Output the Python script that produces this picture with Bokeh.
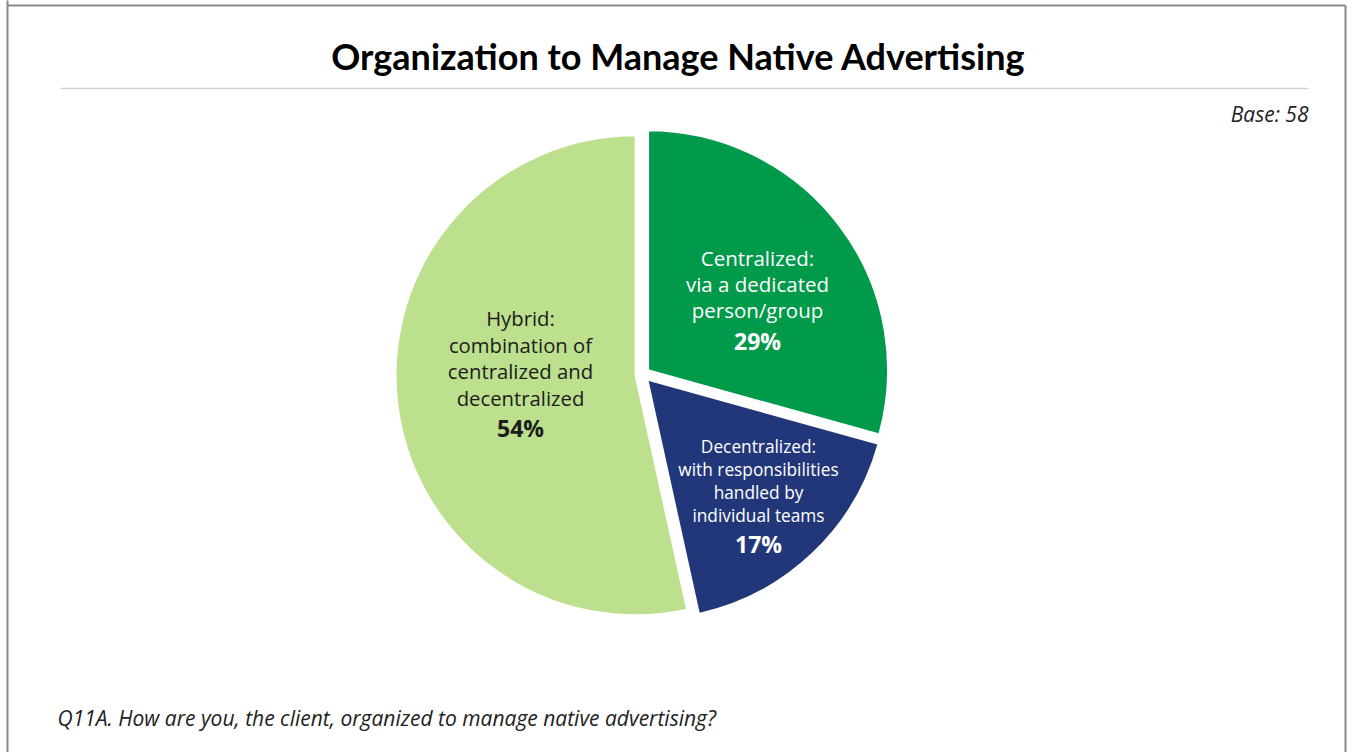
import math
from bokeh.plotting import figure
from bokeh.models import Range1d, ColumnDataSource
from bokeh.core.properties import value
from bokeh.embed import file_html
from bokeh.resources import INLINE

# ---- data ----
categories = ["Centralized", "Decentralized", "Hybrid"]
pct_labels = [29, 17, 54]           # percentages printed on the slices
respondents = [17, 10, 31]          # slice sizes (base 58)
base_n = 58
label_lines = [
    ["Centralized:", "via a dedicated", "person/group"],
    ["Decentralized:", "with responsibilities", "handled by", "individual teams"],
    ["Hybrid:", "combination of", "centralized and", "decentralized"],
]
title_text = "Organization to Manage Native Advertising"
base_text = f"Base: {base_n}"
note_text = "Q11A. How are you, the client, organized to manage native advertising?"

# ---- style / layout ----
colors = ["#009a4a", "#22377a", "#bde08e"]
text_colors = ["#ffffff", "#ffffff", "#1c1c1c"]
font_sizes = [20.5, 17.3, 20.3]
line_steps = [26, 23, 26.5]
pct_gap = [31, 29, 30]
label_offsets = [(115, 75.5), (116, -120.5), (-122, 1.5)]  # relative to pie centre

W, H = 1350, 752
BODY = "Open Sans"

p = figure(width=W, height=H, output_backend="svg", toolbar_location=None,
           x_range=Range1d(0, W), y_range=Range1d(0, H), min_border=0,
           outline_line_color=None)
p.axis.visible = False
p.grid.visible = False
p.background_fill_color = "white"
p.border_fill_color = "white"

# frame border (box runs off the bottom of the page)
p.segment(x0=[7, 7, 1345], y0=[H + 5, H - 5, H - 5], x1=[7, 1345, 1345], y1=[-10, H - 5, -10],
          line_color="#8a8a8a", line_width=2)

# title + rule
p.text(x=[678], y=[H - 55], text=[title_text], text_font=value("Lato"),
       text_font_style="bold", text_font_size="36px", text_align="center",
       text_baseline="middle", text_color="#000000")
p.segment(x0=[60], y0=[H - 88], x1=[1308], y1=[H - 88], line_color="#d2d2d2", line_width=1.5)
p.text(x=[1308], y=[H - 113], text=[base_text], text_font=value(BODY),
       text_font_style="italic", text_font_size="21px", text_align="right",
       text_baseline="middle", text_color="#222222")
p.text(x=[57], y=[H - 717], text=[note_text], text_font=value(BODY),
       text_font_style="italic", text_font_size="21px", text_align="left",
       text_baseline="middle", text_color="#222222")

# pie
cx, cy, R, explode = 642, H - 374, 240, 7
total = float(sum(respondents))
cum = 0.0
xs, ys, starts, ends = [], [], [], []
for s in respondents:
    a_end = math.pi / 2 - 2 * math.pi * cum / total
    cum += s
    a_start = math.pi / 2 - 2 * math.pi * cum / total
    mid = (a_start + a_end) / 2
    xs.append(cx + explode * math.cos(mid))
    ys.append(cy + explode * math.sin(mid))
    starts.append(a_start)
    ends.append(a_end)

src = ColumnDataSource(dict(x=xs, y=ys, start=starts, end=ends, color=colors, cat=categories))
p.wedge(x="x", y="y", radius=R, start_angle="start", end_angle="end", direction="anticlock",
        fill_color="color", line_color="white", line_width=2, source=src)

# labels
for i, lines in enumerate(label_lines):
    n = len(lines)
    step = line_steps[i]
    block = step * (n - 1) + pct_gap[i]
    ax, ay = cx + label_offsets[i][0], cy + label_offsets[i][1]
    top = ay + block / 2
    ly = [top - k * step for k in range(n)]
    p.text(x=[ax] * n, y=ly, text=lines, text_font=value(BODY),
           text_font_size=f"{font_sizes[i]}px", text_align="center", text_baseline="middle",
           text_color=text_colors[i])
    p.text(x=[ax], y=[top - step * (n - 1) - pct_gap[i]], text=[f"{pct_labels[i]}%"],
           text_font=value(BODY), text_font_style="bold", text_font_size="23px",
           text_align="center", text_baseline="middle", text_color=text_colors[i])

open("out.html", "w").write(file_html(p, INLINE))
